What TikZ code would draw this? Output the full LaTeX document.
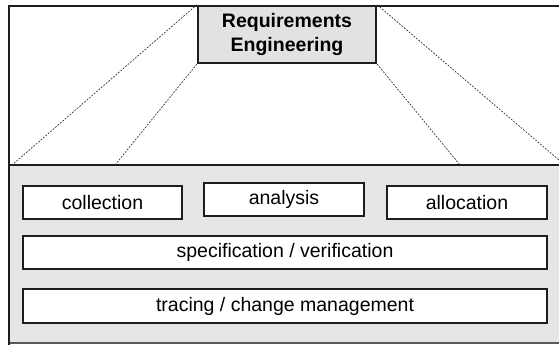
\documentclass[tikz,border=0pt]{standalone}
\usepackage{fontspec}
\setmainfont{Liberation Sans}
\usepackage{tikz}
\usetikzlibrary{positioning}
\definecolor{cLine}{RGB}{30,30,30}
\definecolor{cPanel}{RGB}{229,230,232}
\definecolor{cHead}{RGB}{225,226,228}
\definecolor{cDash}{RGB}{50,50,50}

\begin{document}
\begin{tikzpicture}[x=1pt,y=-1pt,
  task/.style={draw=cLine,line width=1.6pt,fill=white,inner sep=0pt,
    font=\fontsize{19.5}{22}\selectfont},
  zoomline/.style={cDash,line width=0.7pt,dash pattern=on 1.8pt off 1.4pt}]
  \useasboundingbox (0,0) rectangle (559,347);
  % frame and panel
  \fill[cPanel] (10,165) rectangle (559,343);
  \draw[cLine,line width=2pt] (559,6) -- (9,6) -- (9,345);
  \draw[cLine,line width=2pt] (9,165) -- (559,165);
  \draw[black!65,line width=1.2pt] (10,343) -- (559,343);
  % head node
  \node[draw=cLine,line width=2.4pt,fill=cHead,minimum width=178pt,minimum height=57pt,
    align=center,font=\bfseries\fontsize{19.5}{24.5}\selectfont] (re) at (287,34.5)
    {Requirements\\Engineering};
  \coordinate (pl1) at (12,165);
  \coordinate (pl2) at (115,165);
  \coordinate (pr2) at (460,165);
  \coordinate (pr1) at (559,160);
  \draw[zoomline] (re.north west) -- (pl1);
  \draw[zoomline] (re.south west) -- (pl2);
  \draw[zoomline] (re.north east) -- (pr1);
  \draw[zoomline] (re.south east) -- (pr2);
  % activities
  \node[task,minimum width=159pt,minimum height=33pt] (coll) at (102.5,202.5) {collection};
  \node[task,minimum width=160pt,minimum height=33pt] (ana) at (284,199.5) {analysis};
  \node[task,minimum width=160pt,minimum height=33pt] (alloc) at (467,202.5) {allocation};
  \node[task,minimum width=524pt,minimum height=33pt] (spec) at (285,252.5) {specification / verification};
  \node[task,minimum width=524pt,minimum height=34pt] (trace) at (285,306) {tracing / change management};
\end{tikzpicture}
\end{document}
